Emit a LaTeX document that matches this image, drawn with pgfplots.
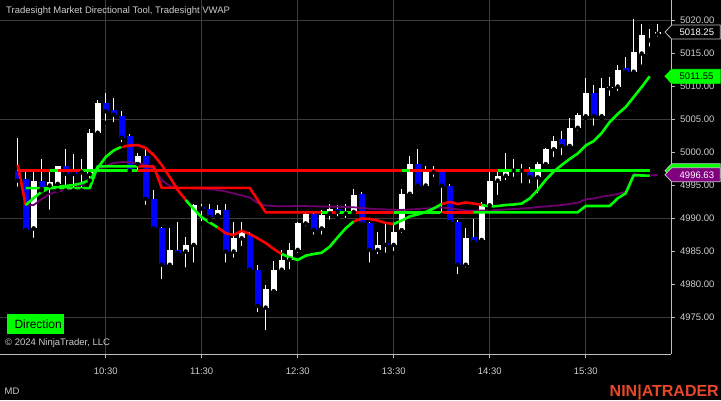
\documentclass[border=0pt]{standalone}
\usepackage{pgfplots}
\pgfplotsset{compat=1.18}
\usepackage{pgfplotstable}
\usepackage{fontspec}
\setmainfont{Liberation Sans}
\definecolor{lblgray}{RGB}{205,205,205}
\definecolor{gridgray}{RGB}{60,60,60}
\definecolor{axgray}{RGB}{190,190,190}
\definecolor{ntgreen}{RGB}{0,255,0}
\definecolor{ntred}{RGB}{255,0,0}
\definecolor{ntblue}{RGB}{0,0,255}
\definecolor{vwapc}{RGB}{110,0,110}
\definecolor{vwapl}{RGB}{128,0,128}
\definecolor{logoc}{RGB}{232,72,40}

% up (white) candles
\pgfplotstableread{
i o h l c
2 4988.5 4997.0 4986.75 4995.75
4 4995.0 4997.0 4991.0 4995.5
5 4995.25 4998.0 4994.25 4998.0
8 4997.0 4999.0 4994.25 4997.25
9 4996.75 5003.5 4995.75 5003.0
10 5003.0 5008.0 5002.5 5007.5
15 4998.25 5000.0 4996.75 4999.5
19 4983.0 4988.5 4982.75 4985.25
21 4985.0 4987.25 4982.25 4986.0
22 4986.0 4992.25 4983.0 4992.0
25 4990.5 4992.0 4990.0 4991.25
27 4985.0 4989.5 4983.75 4987.0
28 4987.0 4989.5 4985.5 4988.0
31 4976.5 4980.0 4972.75 4979.25
32 4979.0 4983.5 4978.75 4982.25
33 4982.25 4985.25 4982.0 4983.75
34 4983.75 4986.25 4982.0 4985.25
35 4985.25 4989.5 4984.5 4989.25
36 4989.25 4991.0 4988.5 4990.75
38 4988.5 4991.25 4987.25 4990.5
39 4990.75 4992.25 4989.5 4991.5
41 4990.75 4992.25 4989.75 4991.0
42 4991.0 4994.5 4990.75 4993.5
45 4985.25 4988.0 4984.25 4986.0
47 4986.0 4989.25 4984.75 4988.0
48 4988.25 4994.5 4987.5 4993.75
49 4993.75 4999.5 4993.5 4998.25
51 4995.0 4998.0 4994.5 4997.0
52 4997.0 4998.0 4996.0 4997.25
56 4983.0 4988.5 4982.25 4987.0
58 4986.75 4992.5 4986.5 4992.0
59 4992.0 4997.0 4991.5 4995.75
60 4995.75 4997.0 4993.25 4996.5
61 4996.5 5000.0 4995.5 4997.25
62 4997.25 4999.0 4996.0 4997.5
65 4996.25 4998.5 4993.5 4998.25
66 4998.25 5000.75 4998.0 5000.5
67 5000.5 5002.5 4999.0 5001.75
69 5001.0 5005.25 5000.75 5003.75
70 5003.75 5006.0 5003.0 5005.75
71 5005.5 5011.25 5005.25 5009.0
73 5005.5 5011.25 5005.0 5009.75
74 5009.75 5011.5 5008.25 5010.0
75 5010.0 5013.25 5009.0 5012.5
77 5012.25 5020.25 5011.75 5015.25
78 5015.0 5019.5 5013.0 5017.75
79 5017.0 5018.75 5015.75 5017.0
80 5018.0 5019.5 5017.25 5018.25
}\upcandles

% down (blue) candles
\pgfplotstableread{
i o h l c
0 4997.25 5002.25 4994.5 4995.75
1 4996.0 4997.0 4987.75 4988.25
3 4995.75 4999.0 4994.25 4994.5
6 4998.0 5000.5 4994.25 4996.75
7 4997.0 4999.75 4994.25 4996.75
11 5007.5 5009.0 5004.5 5006.25
12 5006.5 5008.25 5004.25 5005.75
13 5005.5 5006.25 5001.25 5002.25
14 5002.5 5002.75 4996.75 4997.25
16 4999.5 5000.5 4991.75 4993.0
17 4993.0 4994.25 4988.25 4988.5
18 4988.5 4988.75 4980.5 4983.0
20 4985.25 4989.5 4984.5 4984.75
23 4991.75 4992.25 4989.25 4991.5
24 4991.5 4992.25 4989.75 4990.25
26 4991.25 4992.25 4983.0 4985.0
29 4987.5 4988.0 4982.0 4982.25
30 4982.25 4983.0 4975.5 4976.75
37 4990.75 4991.0 4987.25 4988.25
40 4991.5 4992.0 4990.0 4991.0
43 4993.75 4994.0 4989.0 4989.25
44 4989.25 4989.5 4983.0 4985.25
46 4986.25 4989.5 4984.5 4986.0
50 4998.25 5000.5 4994.5 4995.0
53 4997.0 4997.25 4990.5 4995.0
54 4995.0 4995.25 4989.25 4989.5
55 4989.5 4989.75 4981.25 4983.0
57 4987.25 4990.0 4986.25 4986.5
63 4997.5 4998.25 4995.0 4997.25
64 4997.5 4997.75 4995.0 4996.25
68 5002.0 5003.25 4999.25 5001.0
72 5009.0 5010.25 5003.75 5005.5
76 5012.75 5014.5 5011.75 5012.25
}\downcandles

% indicator lines: VWAP, directional curve, directional stop, level
\pgfplotstableread{
i vwap dir stp lvl
0 4998.11 4998.11 nan 4997.25
1 4992.05 4992.05 4994.6 4997.25
2 4992.05 4993.11 4994.6 4997.25
3 4992.96 4994.06 4994.6 4997.25
4 4993.72 4994.62 4994.6 4997.25
5 4994.09 4994.82 4994.6 4997.25
6 4994.32 4994.93 4994.6 4997.25
7 4994.62 4995.08 4994.6 4997.25
8 4995.08 4995.34 4994.6 4997.25
9 4995.84 4995.84 4994.6 4997.25
10 4997.35 4997.65 4997.9 4997.25
11 4997.96 4999.32 4997.9 4997.25
12 4998.41 5000.31 4997.9 4997.25
13 4998.56 5000.88 4997.9 4997.25
14 4998.49 5001.06 4997.9 4997.25
15 4998.37 5001.14 4997.9 4997.25
16 4998.11 5000.68 4997.9 4997.25
17 4997.50 4999.63 4997.9 4997.25
18 4995.84 4998.11 4994.65 4997.25
19 4994.93 4996.29 4994.65 4997.25
20 4994.67 4994.32 4994.65 4997.25
21 4994.62 4992.81 4994.65 4997.25
22 4994.58 4991.44 4994.65 4997.25
23 4994.52 4990.18 4994.65 4997.25
24 4994.47 4989.40 4994.65 4997.25
25 4994.32 4988.64 4994.65 4997.25
26 4994.09 4987.76 4994.65 4997.25
27 4993.79 4987.50 4994.65 4997.25
28 4993.49 4988.15 4994.65 4997.25
29 4993.18 4987.65 4994.65 4997.25
30 4992.35 4987.00 4992.8 4997.25
31 4991.97 4986.29 4990.94 4997.25
32 4991.89 4985.38 4990.94 4997.25
33 4991.85 4984.62 4990.94 4997.25
34 4991.85 4984.12 4990.94 4997.25
35 4991.90 4983.71 4990.94 4997.25
36 4991.88 4984.37 4990.94 4997.25
37 4991.85 4984.62 4990.94 4997.25
38 4991.82 4984.82 4990.94 4997.25
39 4991.80 4985.73 4990.94 4997.25
40 4991.80 4987.15 4990.94 4997.25
41 4991.75 4988.52 4990.94 4997.25
42 4991.70 4989.55 4990.94 4997.25
43 4991.59 4990.00 4990.94 4997.25
44 4991.49 4989.93 4990.94 4997.25
45 4991.40 4989.70 4990.94 4997.25
46 4991.37 4989.32 4990.94 4997.25
47 4991.32 4989.17 4990.94 4997.25
48 4991.29 4989.70 4990.94 4997.25
49 4991.37 4990.31 4990.94 4997.25
50 4991.44 4990.61 4990.94 4997.25
51 4991.52 4990.99 4990.94 4997.25
52 4991.59 4991.52 4990.94 4997.25
53 4991.67 4992.20 4990.94 4997.25
54 4991.52 4992.50 4990.94 4997.25
55 4991.37 4992.20 4990.94 4997.25
56 4991.21 4992.43 4990.94 4997.25
57 4991.18 4992.27 4990.94 4997.25
58 4991.21 4992.05 4990.94 4997.25
59 4991.24 4991.82 4990.94 4997.25
60 4991.29 4991.89 4990.94 4997.25
61 4991.37 4992.05 4990.94 4997.25
62 4991.44 4992.12 4990.94 4997.25
63 4991.52 4992.27 4990.94 4997.25
64 4991.59 4993.03 4990.94 4997.25
65 4991.74 4994.32 4990.94 4997.25
66 4991.82 4995.84 4990.94 4997.25
67 4991.94 4997.12 4990.94 4997.25
68 4992.05 4998.11 4990.94 4997.25
69 4992.20 4999.02 4990.94 4997.25
70 4992.40 4999.85 4990.94 4997.25
71 4992.91 5001.06 4991.89 4997.25
72 4993.03 5001.74 4991.89 4997.25
73 4993.31 5002.96 4991.89 4997.25
74 4993.49 5004.62 4991.89 4997.25
75 4993.72 5005.84 4993.06 4997.25
76 4994.06 5006.90 4993.82 4997.25
77 4996.75 5008.41 4996.55 4997.25
78 4996.59 5009.93 4996.52 4997.25
79 4996.49 5011.55 4996.49 4997.25
80 4996.63 nan nan nan
}\linesdata

\newcommand{\seg}[4]{\addplot[#1, line width=2.6pt, line join=round, forget plot, restrict x to domain=#3:#4] table[x=i, y=#2] {\linesdata};}
\newcommand{\lblfont}{\fontsize{9.5}{11}\selectfont}

\begin{document}
\begin{tikzpicture}
\fill[black] (0pt,0pt) rectangle (721pt,400pt);
\begin{axis}[
  at={(0pt,46pt)}, anchor=south west,
  scale only axis, width=671pt, height=354pt,
  xmin=-2.2125, xmax=81.66, ymin=4969.47, ymax=5023.11,
  axis x line*=bottom, axis y line*=right,
  axis line style={axgray, line width=0.8pt},
  xtick={11,23,35,47,59,71},
  xticklabels={10:30,11:30,12:30,13:30,14:30,15:30},
  ytick={4975,4980,...,5020},
  extra y ticks={4975,4990,5005,5020},
  extra y tick labels={},
  extra y tick style={grid=major, major tick length=0pt},
  xmajorgrids,
  grid style={gridgray, line width=0.8pt},
  tick style={axgray, line width=0.8pt},
  tick align=outside, major tick length=4pt,
  ticklabel style={lblgray, font=\lblfont},
  xticklabel style={yshift=-6.5pt},
  yticklabel style={xshift=1.5pt},
  /pgf/number format/.cd, fixed, fixed zerofill, precision=2, 1000 sep={}, assume math mode=true,
]
% wicks
\addplot[only marks, mark=none, forget plot, error bars/.cd, y dir=plus, y explicit, error mark=none,
  error bar style={draw=white, line width=1pt}]
  table[x=i, y=l, y error expr=\thisrow{h}-\thisrow{l}] {\upcandles};
\addplot[only marks, mark=none, forget plot, error bars/.cd, y dir=plus, y explicit, error mark=none,
  error bar style={draw=white, line width=1pt}]
  table[x=i, y=l, y error expr=\thisrow{h}-\thisrow{l}] {\downcandles};
% bodies
\addplot[only marks, mark=none, forget plot, error bars/.cd, y dir=plus, y explicit, error mark=none,
  error bar style={draw=white, line width=5.8pt}]
  table[x=i, y=o, y error expr=\thisrow{c}-\thisrow{o}] {\upcandles};
\addplot[only marks, mark=none, forget plot, error bars/.cd, y dir=plus, y explicit, error mark=none,
  error bar style={draw=ntblue, line width=5.8pt}]
  table[x=i, y=c, y error expr=\thisrow{o}-\thisrow{c}] {\downcandles};
% VWAP
\addplot[vwapc, line width=1.8pt, line join=round, forget plot] table[x=i, y=vwap] {\linesdata};
% level line
\seg{ntred}{lvl}{0}{4}
\seg{ntgreen}{lvl}{4}{5}
\seg{ntred}{lvl}{5}{8}
\seg{ntgreen}{lvl}{8}{15}
\seg{ntred}{lvl}{15}{48}
\seg{ntgreen}{lvl}{48}{49}
\seg{ntred}{lvl}{49}{60}
\seg{ntgreen}{lvl}{60}{63}
\seg{ntred}{lvl}{63}{64}
\seg{ntgreen}{lvl}{64}{79}
% stop line
\seg{ntgreen}{stp}{1}{15}
\seg{ntred}{stp}{15}{38}
\seg{ntgreen}{stp}{38}{39}
\seg{ntred}{stp}{39}{40}
\seg{ntgreen}{stp}{40}{42}
\seg{ntred}{stp}{42}{47}
\seg{ntgreen}{stp}{47}{53}
\seg{ntred}{stp}{53}{57}
\seg{ntgreen}{stp}{57}{79}
% directional curve
\seg{ntred}{dir}{0}{1}
\seg{ntgreen}{dir}{1}{13}
\seg{ntred}{dir}{13}{21}
\seg{ntgreen}{dir}{21}{25}
\seg{ntred}{dir}{25}{33}
\seg{ntgreen}{dir}{33}{42}
\seg{ntred}{dir}{42}{47}
\seg{ntgreen}{dir}{47}{53}
\seg{ntred}{dir}{53}{58}
\seg{ntgreen}{dir}{58}{79}
\coordinate (L1) at (axis cs:80.91,5018.25);
\coordinate (L2) at (axis cs:80.91,5011.55);
\coordinate (L3) at (axis cs:80.91,4997.25);
\coordinate (L4) at (axis cs:80.91,4996.63);
\end{axis}
% right price markers
\draw[axgray, fill=black, line width=0.8pt] (L1) -- ++(6.7pt,7pt) -- ++(48.5pt,0pt) -- ++(0pt,-14pt) -- ++(-48.5pt,0pt) -- cycle;
\path (L1) ++(14.5pt,0pt) node[anchor=west, inner sep=0pt, text=white, font=\lblfont] {5018.25};
\draw[ntgreen, fill=ntgreen, line width=0.8pt] (L2) -- ++(6.7pt,7pt) -- ++(48.5pt,0pt) -- ++(0pt,-14pt) -- ++(-48.5pt,0pt) -- cycle;
\path (L2) ++(14.5pt,0pt) node[anchor=west, inner sep=0pt, text=black, font=\lblfont] {5011.55};
\draw[axgray, fill=ntgreen, line width=0.8pt] (L3) -- ++(6.7pt,7pt) -- ++(48.5pt,0pt) -- ++(0pt,-14pt) -- ++(-48.5pt,0pt) -- cycle;
\draw[axgray, fill=vwapl, line width=0.8pt] (L4) -- ++(6.7pt,7pt) -- ++(48.5pt,0pt) -- ++(0pt,-14pt) -- ++(-48.5pt,0pt) -- cycle;
\path (L4) ++(14.5pt,0pt) node[anchor=west, inner sep=0pt, text=white, font=\lblfont] {4996.63};
% texts
\node[anchor=base west, inner sep=0pt, text=lblgray, font=\lblfont] at (6pt,386pt) {Tradesight Market Directional Tool, Tradesight VWAP};
\fill[ntgreen] (6.7pt,66pt) rectangle (64pt,86pt);
\node[anchor=base west, inner sep=0pt, text=black, font=\fontsize{12}{14}\selectfont] at (14.3pt,71.5pt) {Direction};
\node[anchor=base west, inner sep=0pt, text=lblgray, font=\lblfont] at (5pt,54.3pt) {© 2024 NinjaTrader, LLC};
\node[anchor=base west, inner sep=0pt, text=lblgray, font=\lblfont] at (4.5pt,6pt) {MD};
\node[anchor=base east, inner sep=0pt, text=logoc, font=\fontsize{16}{18}\selectfont\bfseries] at (719pt,4pt) {NIN|ATRADER};
\pgfresetboundingbox
\path[use as bounding box] (0pt,0pt) rectangle (721pt,400pt);
\end{tikzpicture}
\end{document}
